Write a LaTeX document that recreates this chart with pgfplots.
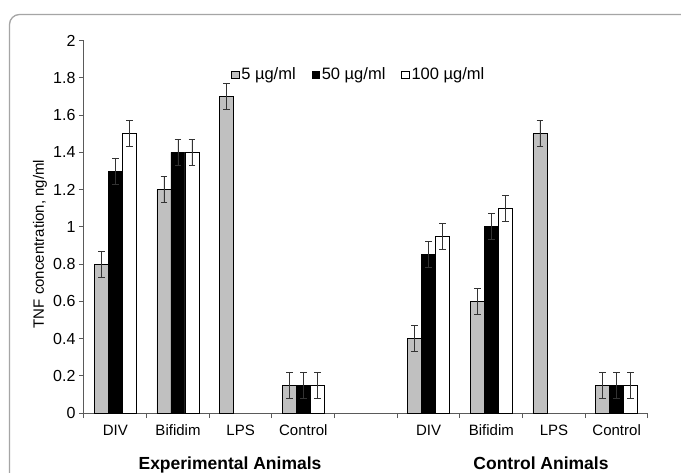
\documentclass[border=0pt]{standalone}
\usepackage{fontspec}
\setmainfont{Liberation Sans}
\usepackage{pgfplots}
\pgfplotsset{compat=1.18}
\definecolor{barGray}{RGB}{192,192,192}
\definecolor{frameGray}{RGB}{165,165,165}
\definecolor{axisGray}{RGB}{90,90,90}
\begin{document}
\begin{tikzpicture}[x=1pt,y=1pt]
\useasboundingbox (0,0) rectangle (681,-473);
\fill[white] (0,0) rectangle (681,-473);
\draw[frameGray, line width=1.3pt, rounded corners=10pt] (9.5,-14.5) rectangle (730,-530);
\begin{axis}[
  at={(84pt,-413pt)}, anchor=south west,
  scale only axis, width=564pt, height=372.3pt,
  xmin=-0.5, xmax=8.5, ymin=0, ymax=2,
  ybar=0pt, bar width=14pt,
  axis x line*=bottom, axis y line*=left,
  axis line style={axisGray, line width=1pt},
  tick style={axisGray, line width=1pt},
  tick align=outside, major tick length=5pt, minor tick length=5pt,
  ytick={0,0.2,0.4,0.6,0.8,1,1.2,1.4,1.6,1.8,2},
  yticklabels={0,0.2,0.4,0.6,0.8,1,1.2,1.4,1.6,1.8,2},
  xtick={0,1,2,3,4,5,6,7,8},
  xticklabels={DIV,Bifidim,LPS,Control,,DIV,Bifidim,LPS,Control},
  major x tick style={draw=none},
  minor xtick={-0.5,0.5,1.5,2.5,3.5,4.5,5.5,6.5,7.5,8.5},
  yticklabel style={font=\fontsize{16}{19}\selectfont},
  xticklabel style={font=\fontsize{15}{18}\selectfont, yshift=-3.5pt},
  ylabel={TNF concentration, ng/ml},
  ylabel style={at={(axis description cs:-0.078,0.454)}, anchor=center, font=\fontsize{15}{18}\selectfont},
  legend columns=3,
  legend style={draw=none, fill=none, at={(0.2553,0.909)}, anchor=west,
    font=\fontsize{16.5}{19}\selectfont,
    /tikz/every even column/.append style={column sep=14pt}},
  legend image code/.code={\draw[#1, line width=0.6pt] (0pt,-3.75pt) rectangle (7.5pt,3.75pt);},
  error bars/y dir=both, error bars/y explicit,
  error bars/error bar style={line width=0.8pt, black!80},
  error bars/error mark options={rotate=90, mark size=3.3pt, line width=0.8pt, black!80},
]
\addplot[fill=barGray, draw=black, line width=0.7pt] coordinates {
  (0,0.8) +- (0,0.07)
  (1,1.2) +- (0,0.07)
  (2,1.7) +- (0,0.07)
  (3,0.15) +- (0,0.07)
  (5,0.4) +- (0,0.07)
  (6,0.6) +- (0,0.07)
  (7,1.5) +- (0,0.07)
  (8,0.15) +- (0,0.07)
};
\addplot[fill=black, draw=black, line width=0.7pt] coordinates {
  (0,1.3) +- (0,0.07)
  (1,1.4) +- (0,0.07)
  (3,0.15) +- (0,0.07)
  (5,0.85) +- (0,0.07)
  (6,1.0) +- (0,0.07)
  (8,0.15) +- (0,0.07)
};
\addplot[fill=white, draw=black, line width=0.7pt] coordinates {
  (0,1.5) +- (0,0.07)
  (1,1.4) +- (0,0.07)
  (3,0.15) +- (0,0.07)
  (5,0.95) +- (0,0.07)
  (6,1.1) +- (0,0.07)
  (8,0.15) +- (0,0.07)
};
\legend{5 µg/ml,50 µg/ml,100 µg/ml}
\end{axis}
\node[font=\bfseries\fontsize{17.5}{20}\selectfont, anchor=base] at (230,-469) {Experimental Animals};
\node[font=\bfseries\fontsize{17.5}{20}\selectfont, anchor=base] at (541,-469) {Control Animals};
\end{tikzpicture}
\end{document}
